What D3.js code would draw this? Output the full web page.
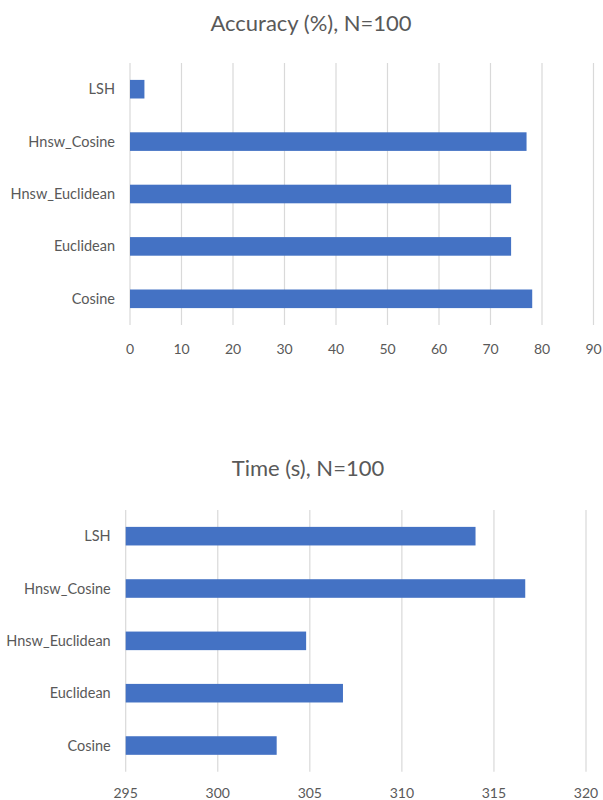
<!DOCTYPE html>
<html>
<head>
<meta charset="utf-8">
<script src="https://cdn.jsdelivr.net/npm/d3@7"></script>
<style>
  body { margin: 0; background: #fff; }
  svg { display: block; font-family: Lato, "Open Sans", sans-serif; }
</style>
</head>
<body>
<svg id="chart" width="603" height="800"></svg>
<script>
// categories listed bottom to top
const categories = ["Cosine", "Euclidean", "Hnsw_Euclidean", "Hnsw_Cosine", "LSH"];
const accuracy = [78.1, 74.0, 74.0, 77.0, 2.8];
const timeSec = [303.2, 306.8, 304.8, 316.7, 314.0];
const accuracyTicks = [0, 10, 20, 30, 40, 50, 60, 70, 80, 90];
const timeTicks = [295, 300, 305, 310, 315, 320];

const svg = d3.select("#chart");
const barColor = "#4472c4";
const gridColor = "#d9d9d9";
const textColor = "#595959";

function drawChart(opts) {
    const { title, titleX, titleY, values, ticks, xRange, yRange, labelGap, tickY } = opts;

    const x = d3.scaleLinear()
        .domain([ticks[0], ticks[ticks.length - 1]])
        .range(xRange);

    const y = d3.scaleBand()
        .domain(categories)
        .range(yRange) // reversed: first category at bottom
        .paddingInner(0.645)
        .paddingOuter(0.3225);

    const g = svg.append("g");

    g.append("text")
        .attr("x", titleX)
        .attr("y", titleY)
        .attr("text-anchor", "middle")
        .attr("fill", textColor)
        .style("font-size", "22px")
        .text(title);

    // vertical gridlines (first one doubles as the axis line)
    g.append("g")
        .selectAll("line")
        .data(ticks)
        .join("line")
        .attr("x1", d => x(d))
        .attr("x2", d => x(d))
        .attr("y1", yRange[1])
        .attr("y2", yRange[0])
        .attr("stroke", gridColor)
        .attr("stroke-width", 1.2);

    // tick labels
    g.append("g")
        .selectAll("text")
        .data(ticks)
        .join("text")
        .attr("x", d => x(d))
        .attr("y", tickY)
        .attr("text-anchor", "middle")
        .attr("fill", textColor)
        .style("font-size", "14px")
        .text(d => d);

    // category labels
    g.append("g")
        .selectAll("text")
        .data(categories)
        .join("text")
        .attr("x", xRange[0] - labelGap)
        .attr("y", d => y(d) + y.bandwidth() / 2)
        .attr("dy", "0.35em")
        .attr("text-anchor", "end")
        .attr("fill", textColor)
        .style("font-size", "14.5px")
        .text(d => d);

    g.append("g")
        .selectAll("rect")
        .data(categories.map((c, i) => ({ c, v: values[i] })))
        .join("rect")
        .attr("x", x(ticks[0]))
        .attr("y", d => y(d.c))
        .attr("width", d => x(d.v) - x(ticks[0]))
        .attr("height", y.bandwidth())
        .attr("fill", barColor);
}

drawChart({
    title: "Accuracy (%), N=100",
    titleX: 311, titleY: 31,
    values: accuracy,
    ticks: accuracyTicks,
    xRange: [130, 593.5],
    yRange: [325, 63],
    labelGap: 15,
    tickY: 354
});

drawChart({
    title: "Time (s), N=100",
    titleX: 308, titleY: 476,
    values: timeSec,
    ticks: timeTicks,
    xRange: [125.7, 586],
    yRange: [771.7, 510],
    labelGap: 15,
    tickY: 798
});
</script>
</body>
</html>
